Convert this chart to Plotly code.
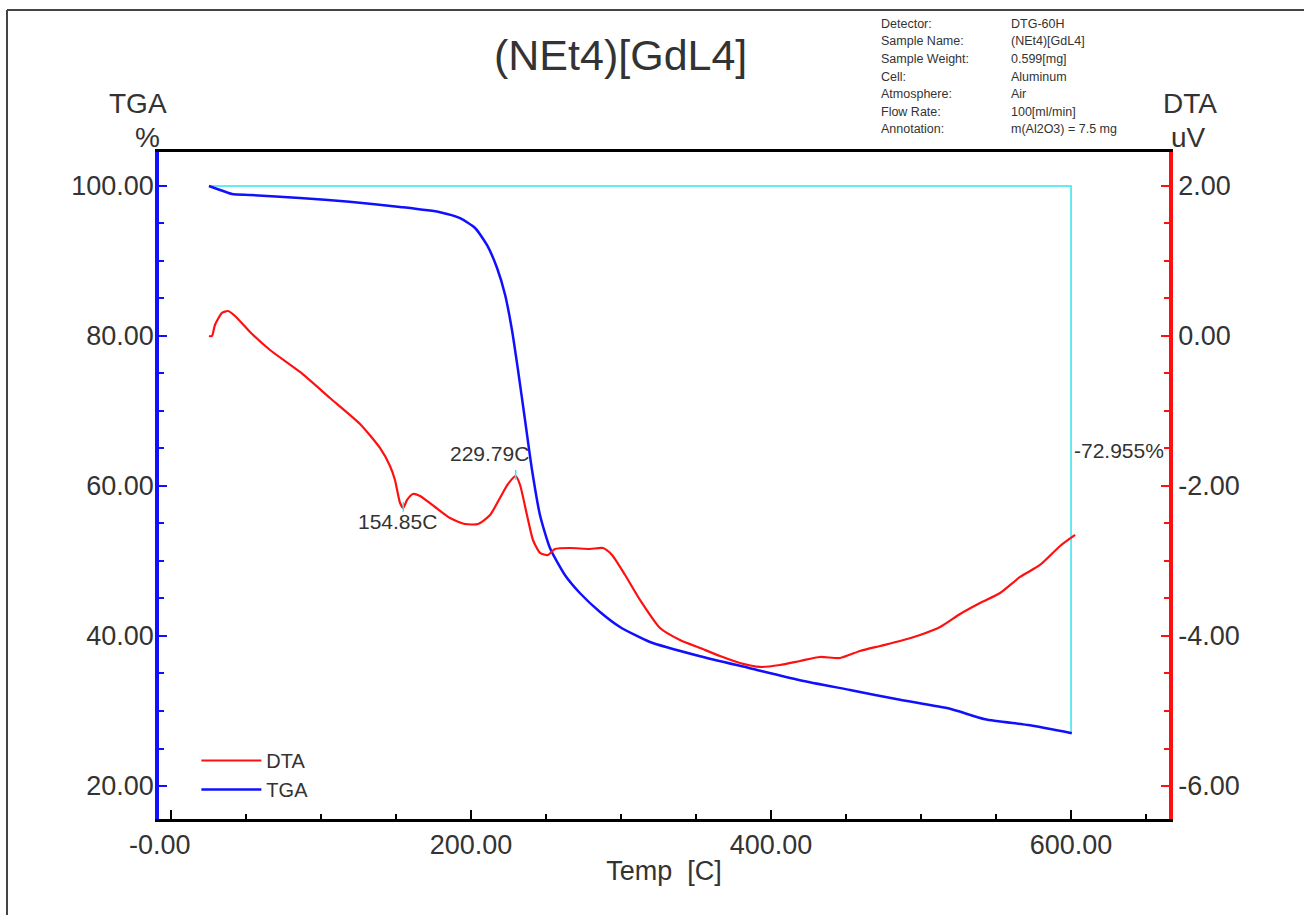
import plotly.graph_objects as go

# TGA weight curve (% vs temperature in C)
tga_temp = [25.3, 32.7, 40.7, 52.7, 86, 119, 152.7, 179.3, 192.7, 202.7, 210.7, 217.3,
            222.7, 227.3, 231.3, 236, 240.7, 246, 252.7, 262.7, 272.7, 286, 299.3, 319.3,
            352.7, 386, 419.3, 452.7, 486, 519.3, 542.7, 572.7, 600.5]
tga_pct = [100.0, 99.47, 98.93, 98.8, 98.4, 97.9, 97.2, 96.5, 95.7, 94.4, 92.1, 89.1,
           85.5, 80.8, 75.5, 68.8, 62.1, 56.1, 51.7, 48.1, 45.7, 43.2, 41.2, 39.2,
           37.3, 35.7, 34.1, 32.8, 31.5, 30.3, 28.9, 28.1, 27.045]

# DTA signal (uV vs temperature in C)
dta_temp = [25.3, 27.3, 29.3, 34, 38, 42.7, 52.7, 66, 86, 106, 126, 139.3, 146, 149.3,
            152.7, 154.85, 157.3, 161.3, 166, 176, 186, 196, 204.7, 212.7, 219.3, 224.7,
            229.79, 232.7, 237.3, 241.3, 246, 251.3, 256, 266, 279.3, 288, 294, 302.7,
            312.7, 326, 339.3, 352.7, 366, 379.3, 392.7, 406, 419.3, 432.7, 446, 459.3,
            472.7, 486, 499.3, 512.7, 526, 539.3, 552.7, 566, 579.3, 592.7, 602.7]
dta_uv = [0.0, 0.0, 0.147, 0.307, 0.333, 0.267, 0.053, -0.187, -0.48, -0.827, -1.173,
          -1.493, -1.733, -1.92, -2.227, -2.293, -2.187, -2.107, -2.133, -2.28, -2.427,
          -2.507, -2.507, -2.387, -2.16, -1.973, -1.867, -1.987, -2.387, -2.72, -2.893,
          -2.92, -2.84, -2.827, -2.84, -2.827, -2.92, -3.187, -3.52, -3.893, -4.053,
          -4.16, -4.267, -4.36, -4.413, -4.387, -4.333, -4.28, -4.293, -4.2, -4.133,
          -4.067, -3.987, -3.88, -3.707, -3.56, -3.427, -3.213, -3.053, -2.8, -2.653]

# Peak annotations
peak_temps = [154.85, 229.79]
peak_uv = [-2.293, -1.867]
peak_labels = ["154.85C", "229.79C"]

# Weight-loss step
step_start, step_end = 25.3, 600.0
step_top, step_bottom = 100.0, 27.045
step_label = "-72.955%"

x_ticks = [0, 200, 400, 600]
x_ticktext = ["-0.00\u00a0\u00a0\u00a0", "200.00", "400.00", "600.00"]
y_ticks = [20, 40, 60, 80, 100]
y2_ticks = [-6, -4, -2, 0, 2]

info_keys = ["Detector:", "Sample Name:", "Sample Weight:", "Cell:", "Atmosphere:",
             "Flow Rate:", "Annotation:"]
info_vals = ["DTG-60H", "(NEt4)[GdL4]", "0.599[mg]", "Aluminum", "Air",
             "100[ml/min]", "m(Al2O3) = 7.5 mg"]

FONT = "Liberation Sans, Arial, sans-serif"
TXT = "#333333"
BLUE = "#1010ff"
RED = "#ff1010"
CYAN = "#33e6f0"

# plot-area geometry in px, used to place paper-anchored text
L, T, W, H = 159, 152, 1010, 667


def px(xp):
    return (xp - L) / W


def py(yp):
    return (T + H - yp) / H


fig = go.Figure()

# weight-loss bracket
fig.add_trace(go.Scatter(x=[step_start, step_end, step_end], y=[step_top, step_top, step_bottom],
                         mode="lines", line=dict(color=CYAN, width=1.5),
                         showlegend=False, hoverinfo="skip"))

fig.add_trace(go.Scatter(x=dta_temp, y=dta_uv, name="DTA", yaxis="y2", mode="lines",
                         line=dict(color=RED, width=2.2, shape="spline", smoothing=0.6)))
fig.add_trace(go.Scatter(x=tga_temp, y=tga_pct, name="TGA", mode="lines",
                         line=dict(color=BLUE, width=2.5, shape="spline", smoothing=0.6)))

# small cyan peak markers
for t, v in zip(peak_temps, peak_uv):
    fig.add_shape(type="line", xref="x", yref="y2", x0=t, x1=t, y0=v - 0.05, y1=v + 0.08,
                  line=dict(color=CYAN, width=1.5))

fig.add_annotation(x=peak_temps[0], y=peak_uv[0], yref="y2", text=peak_labels[0],
                   showarrow=False, xanchor="center", yanchor="top", xshift=-6, yshift=0,
                   font=dict(family=FONT, size=21, color=TXT))
fig.add_annotation(x=peak_temps[1], y=peak_uv[1], yref="y2", text=peak_labels[1],
                   showarrow=False, xanchor="center", yanchor="bottom", xshift=-26, yshift=9,
                   font=dict(family=FONT, size=21, color=TXT))
fig.add_annotation(x=step_end, y=64.7, text=step_label, showarrow=False,
                   xanchor="left", yanchor="middle", xshift=1,
                   font=dict(family=FONT, size=21, color=TXT))

# title and axis captions
fig.add_annotation(xref="paper", yref="paper", x=px(620), y=py(55), text="(NEt4)[GdL4]",
                   showarrow=False, xanchor="center", yanchor="middle",
                   font=dict(family=FONT, size=43, color=TXT))
fig.add_annotation(xref="paper", yref="paper", x=px(138), y=py(104), text="TGA",
                   showarrow=False, xanchor="center", yanchor="middle",
                   font=dict(family=FONT, size=28, color=TXT))
fig.add_annotation(xref="paper", yref="paper", x=px(147), y=py(137), text="%",
                   showarrow=False, xanchor="center", yanchor="middle",
                   font=dict(family=FONT, size=28, color=TXT))
fig.add_annotation(xref="paper", yref="paper", x=px(1190), y=py(104), text="DTA",
                   showarrow=False, xanchor="center", yanchor="middle",
                   font=dict(family=FONT, size=28, color=TXT))
fig.add_annotation(xref="paper", yref="paper", x=px(1188), y=py(137), text="uV",
                   showarrow=False, xanchor="center", yanchor="middle",
                   font=dict(family=FONT, size=28, color=TXT))

# instrument info block
for i, (k, v) in enumerate(zip(info_keys, info_vals)):
    ypos = py(24 + i * 17.5)
    fig.add_annotation(xref="paper", yref="paper", x=px(879), y=ypos, text=k,
                       showarrow=False, xanchor="left", yanchor="middle",
                       font=dict(family=FONT, size=12.5, color=TXT))
    fig.add_annotation(xref="paper", yref="paper", x=px(1009), y=ypos, text=v,
                       showarrow=False, xanchor="left", yanchor="middle",
                       font=dict(family=FONT, size=12.5, color=TXT))

# page frame (left and top edges)
fig.add_shape(type="line", xref="paper", yref="paper", x0=px(7), x1=px(7),
              y0=py(920), y1=py(10), line=dict(color="#444444", width=2))
fig.add_shape(type="line", xref="paper", yref="paper", x0=px(7), x1=px(1310),
              y0=py(10), y1=py(10), line=dict(color="#444444", width=2))

tickfont = dict(family=FONT, size=27, color=TXT)

fig.update_layout(
    width=1304, height=915,
    margin=dict(l=L, r=1304 - L - W, t=T, b=915 - T - H),
    paper_bgcolor="white", plot_bgcolor="white",
    xaxis=dict(range=[-8, 665.3], tickvals=x_ticks, ticktext=x_ticktext, ticks="inside",
               ticklen=9, tickwidth=1.5, tickcolor="black",
               minor=dict(dtick=50, tick0=0, ticks="inside", ticklen=5, tickcolor="black"),
               showline=True, linecolor="black", linewidth=3, mirror=True, showgrid=False,
               zeroline=False, tickfont=tickfont,
               title=dict(text="Temp  [C]", font=dict(family=FONT, size=27, color=TXT), standoff=2)),
    yaxis=dict(range=[15.6, 104.53], tickvals=y_ticks, ticktext=[f"{v:.2f}" for v in y_ticks],
               ticks="inside", ticklen=8, tickwidth=1.5, tickcolor=BLUE,
               minor=dict(dtick=5, tick0=0, ticks="inside", ticklen=5, tickcolor=BLUE),
               showline=True, linecolor=BLUE, linewidth=3.5, showgrid=False,
               zeroline=False, tickfont=tickfont, ticklabelstandoff=-4),
    yaxis2=dict(range=[-6.44, 2.453], overlaying="y", side="right",
                tickvals=y2_ticks, ticktext=[f"{v:.2f}" for v in y2_ticks],
                ticks="inside", ticklen=8, tickwidth=1.5, tickcolor=RED,
                minor=dict(dtick=0.5, tick0=0, ticks="inside", ticklen=5, tickcolor=RED),
                showline=True, linecolor=RED, linewidth=3.5, showgrid=False,
                zeroline=False, tickfont=tickfont),
    legend=dict(x=0.037, y=py(775), xanchor="left", yanchor="middle", bgcolor="rgba(0,0,0,0)",
                font=dict(family=FONT, size=20, color=TXT), tracegroupgap=0, itemwidth=60),
    showlegend=True,
)

fig.write_html("out.html")
